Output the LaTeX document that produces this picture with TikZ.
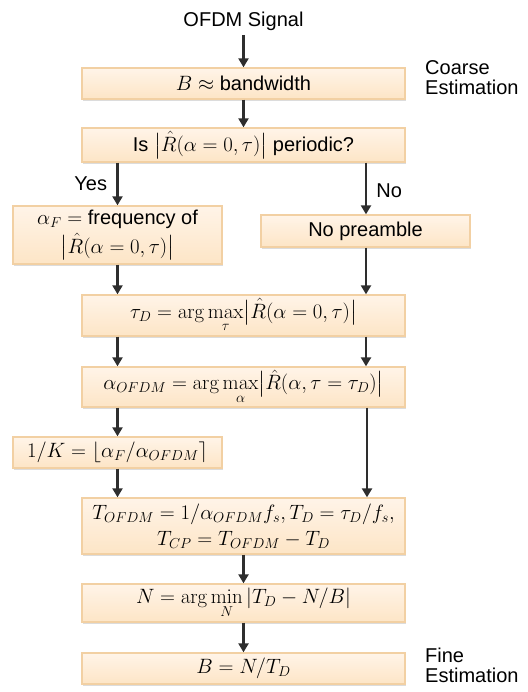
\documentclass[tikz,border=0pt]{standalone}
\usepackage{amsmath}
\usepackage[no-math]{fontspec}
\setmainfont{Liberation Sans}
\usetikzlibrary{arrows.meta,shadows,calc}
\definecolor{boxtop}{HTML}{FFF4E8}
\definecolor{boxbot}{HTML}{FDE5C6}
\definecolor{boxline}{HTML}{F2D0A3}
\definecolor{arrowc}{HTML}{2E2E2E}
\tikzset{
  flowbox/.style={draw=boxline, line width=1.3pt, top color=boxtop, bottom color=boxbot,
    rectangle, inner sep=0pt, align=center,
    drop shadow={shadow xshift=1.2pt, shadow yshift=-1.8pt, fill=black!45, opacity=0.3}},
  widebox/.style={flowbox, minimum width=323pt},
  sidebox/.style={flowbox, minimum width=209pt},
  flowarrow/.style={draw=arrowc, line width=2.2pt, -{Triangle[length=9pt,width=10pt]}},
  plain/.style={inner sep=0pt, align=left},
}
\begin{document}
\begin{tikzpicture}[x=1pt,y=-1pt,font=\fontsize{20}{20}\selectfont]
\useasboundingbox (0,0) rectangle (527,692);
% nodes
\node[plain, anchor=base] (sig) at (243.5,27) {OFDM Signal};
\node[widebox, minimum height=31pt] (b1) at (243.5,83.5) {$B\approx$ bandwidth};
\node[widebox, minimum height=34pt] (q) at (243.5,145) {Is $\bigl|\hat R(\alpha=0,\tau)\bigr|$ periodic?};
\node[sidebox, minimum height=58pt] (af) at (117.5,235) {$\alpha_F =$ frequency of\\[4pt] $\bigl|\hat R(\alpha=0,\tau)\bigr|$};
\node[sidebox, minimum height=32pt] (np) at (365.5,231) {No preamble};
\node[widebox, minimum height=41pt] (tau) at (243.5,315.5) {$\tau_D = \arg\max\limits_{\tau}\bigl|\hat R(\alpha=0,\tau)\bigr|$};
\node[widebox, minimum height=40pt] (ao) at (243.5,387) {$\alpha_{OFDM} = \arg\max\limits_{\alpha}\bigl|\hat R(\alpha,\tau=\tau_D)\bigr|$};
\node[sidebox, minimum height=31pt] (k) at (117.5,452.5) {$1/K = \lfloor \alpha_F/\alpha_{OFDM} \rceil$};
\node[widebox, minimum height=56pt] (t) at (243.5,526) {$T_{OFDM} = 1/\alpha_{OFDM} f_s, T_D = \tau_D/f_s,$\\[6pt] $T_{CP} = T_{OFDM} - T_D$};
\node[widebox, minimum height=38pt] (n) at (243.5,603) {$N = \arg\min\limits_{N}|T_D - N/B|$};
\node[widebox, minimum height=31pt] (b2) at (243.5,668.5) {$B = N/T_D$};
% side labels
\node[plain, anchor=north west] (coarse) at (425,60) {Coarse\\Estimation};
\node[plain, anchor=north west] (fine) at (425,648) {Fine\\Estimation};
% connectors
\coordinate (sigb) at (243.5,35);
\draw[flowarrow] (sigb) -- (b1.north);
\draw[flowarrow] (b1.south) -- (q.north);
\draw[flowarrow] (af.north |- q.south) -- node[left=6pt, pos=0.5] (yes) {Yes} (af.north);
\draw[flowarrow] ([xshift=0.5pt]np.north |- q.south) -- node[right=6pt, pos=0.55] (no) {No} ([xshift=0.5pt]np.north);
\draw[flowarrow] (af.south) -- (af.south |- tau.north);
\draw[flowarrow] ([xshift=0.5pt]np.south) -- ([xshift=0.5pt]np.south |- tau.north);
\draw[flowarrow] (af.south |- tau.south) -- (af.south |- ao.north);
\draw[flowarrow] ([xshift=0.5pt]np.south |- tau.south) -- ([xshift=0.5pt]np.south |- ao.north);
\draw[flowarrow] (af.south |- ao.south) -- (k.north);
\draw[flowarrow] ([xshift=1.5pt]np.south |- ao.south) -- ([xshift=1.5pt]np.south |- t.north);
\draw[flowarrow] (k.south) -- (k.south |- t.north);
\draw[flowarrow] (t.south) -- (n.north);
\draw[flowarrow] (n.south) -- (b2.north);
\end{tikzpicture}
\end{document}
